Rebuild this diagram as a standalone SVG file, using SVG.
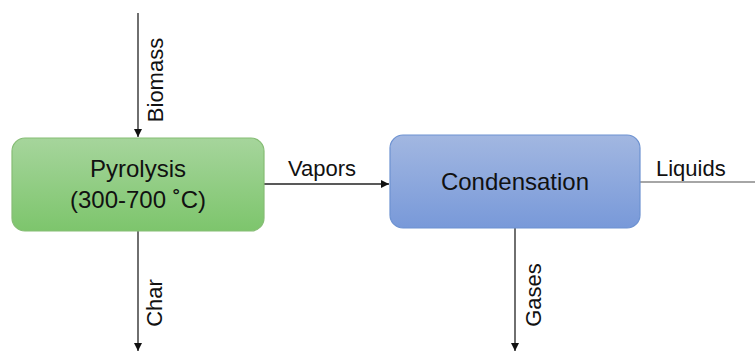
<svg xmlns="http://www.w3.org/2000/svg" width="755" height="352" viewBox="0 0 755 352">
<style>
.lbl{font-family:"Liberation Sans",Arial,sans-serif;font-size:22px;fill:#111}
.box{font-family:"Liberation Sans",Arial,sans-serif;font-size:24px;fill:#111;text-anchor:middle}
.ln{stroke:#222;stroke-width:1.3;fill:none}
</style>
<defs>
<linearGradient id="gG" x1="0" y1="0" x2="0" y2="1"><stop offset="0" stop-color="#a6d59c"/><stop offset="1" stop-color="#7dc56c"/></linearGradient>
<linearGradient id="gB" x1="0" y1="0" x2="0" y2="1"><stop offset="0" stop-color="#a2b7e1"/><stop offset="1" stop-color="#7899d9"/></linearGradient>
<marker id="ah" viewBox="0 0 10 10" refX="10" refY="5" markerWidth="8" markerHeight="8" markerUnits="userSpaceOnUse" orient="auto"><path d="M0,0 L10,5 L0,10 z" fill="#111"/></marker>
</defs>
<g id="connectors">
<line class="ln" x1="138" y1="13" x2="138" y2="137" marker-end="url(#ah)"/>
<line class="ln" x1="138" y1="231" x2="138" y2="351" marker-end="url(#ah)"/>
<line class="ln" x1="264" y1="184" x2="389" y2="184" marker-end="url(#ah)"/>
<line x1="640" y1="182" x2="755" y2="182" stroke="#888" stroke-width="1.5"/>
<line class="ln" x1="515" y1="228" x2="515" y2="351" marker-end="url(#ah)"/>
<text class="lbl" transform="translate(163,80) rotate(-90)" text-anchor="middle">Biomass</text>
<text class="lbl" transform="translate(162,303) rotate(-90)" text-anchor="middle">Char</text>
<text class="lbl" transform="translate(541,295) rotate(-90)" text-anchor="middle">Gases</text>
<text class="lbl" x="288" y="176">Vapors</text>
<text class="lbl" x="656" y="176">Liquids</text>
</g>
<g id="pyrolysis">
<rect x="12" y="138" width="252" height="93" rx="13" fill="url(#gG)" stroke="#86bd75" stroke-width="1.2"/>
<text class="box" x="138" y="177">Pyrolysis</text>
<text class="box" x="138" y="208">(300-700 ˚C)</text>
</g>
<g id="condensation">
<rect x="390" y="135" width="250" height="93" rx="13" fill="url(#gB)" stroke="#6d92d1" stroke-width="1.2"/>
<text class="box" x="515" y="190">Condensation</text>
</g>
</svg>
